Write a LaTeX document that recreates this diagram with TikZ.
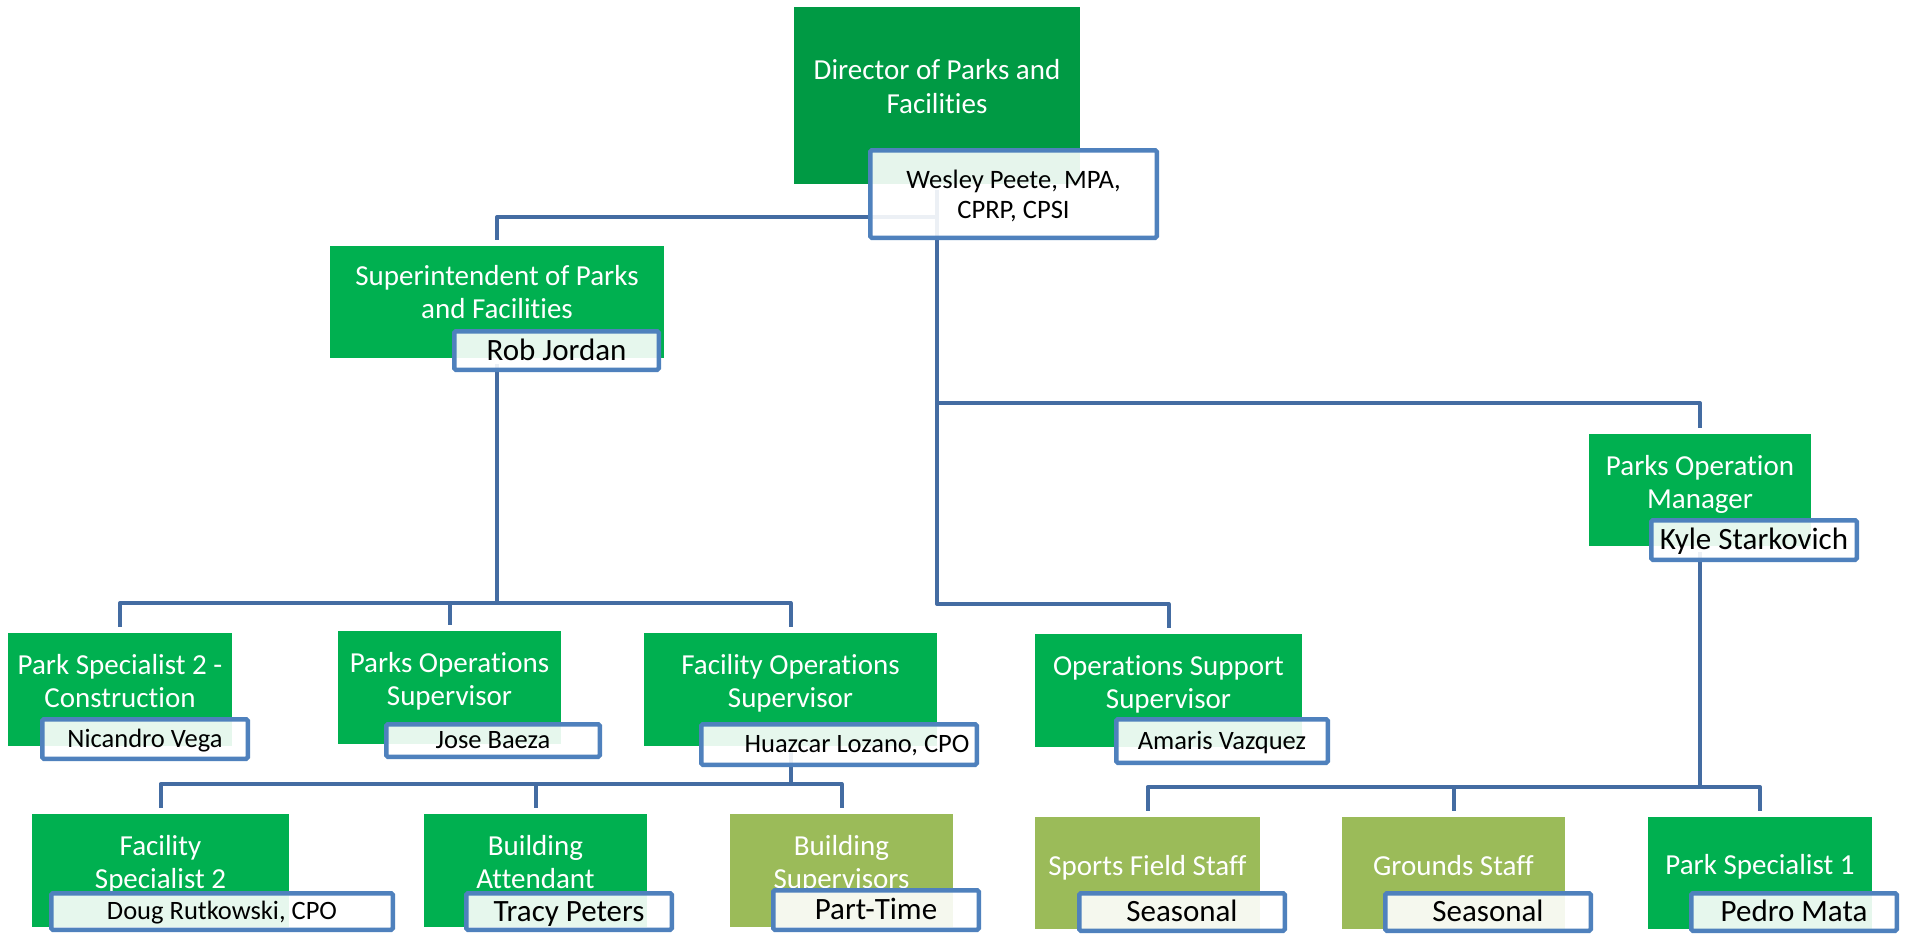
\documentclass[tikz,border=0pt]{standalone}
\usepackage{fontspec}
\setmainfont{Carlito}[Ligatures={NoCommon}]
\definecolor{dirgreen}{RGB}{0,154,68}
\definecolor{boxgreen}{RGB}{0,176,80}
\definecolor{olivebox}{RGB}{155,187,89}
\definecolor{namebd}{RGB}{79,129,189}
\definecolor{conncol}{RGB}{68,108,162}
\begin{document}
\begin{tikzpicture}[x=1pt,y=-1pt,
  tbox/.style={rectangle, inner sep=0pt, outer sep=0pt, draw=none},
  ttext/.style={text=white, font=\fontsize{29}{33}\selectfont, inner sep=0pt, anchor=base},
  nbox/.style={rectangle, draw=namebd, line width=4.5pt, fill=white, fill opacity=0.9, text opacity=1, rounded corners=1.5pt, inner sep=0pt, outer sep=0pt, text=black},
  nsmall/.style={nbox, font=\fontsize{26.5}{30}\selectfont, text height=16.7pt, text depth=0pt},
  nbig/.style={nbox, font=\fontsize{31}{35}\selectfont, text height=19.6pt, text depth=0pt},
  conn/.style={draw=conncol, line width=4pt, line join=round, shorten <=6pt, shorten >=6pt}
]
\useasboundingbox (0,0) rectangle (1906,934);
\fill[white] (0,0) rectangle (1906,934);

% title boxes
\node[tbox, fill=dirgreen, minimum width=286pt, minimum height=177pt] (dir) at (937,95.5) {};
\node[tbox, fill=boxgreen, minimum width=334pt, minimum height=112pt] (sup) at (497,302) {};
\node[tbox, fill=boxgreen, minimum width=224pt, minimum height=113pt] (ps2) at (120,689.5) {};
\node[tbox, fill=boxgreen, minimum width=223pt, minimum height=113pt] (pos) at (449.5,687.5) {};
\node[tbox, fill=boxgreen, minimum width=293pt, minimum height=113pt] (fos) at (790.5,689.5) {};
\node[tbox, fill=boxgreen, minimum width=267pt, minimum height=113pt] (oss) at (1168.5,690.5) {};
\node[tbox, fill=boxgreen, minimum width=222pt, minimum height=112pt] (pom) at (1700,490) {};
\node[tbox, fill=boxgreen, minimum width=257pt, minimum height=113pt] (fs2) at (160.5,870.5) {};
\node[tbox, fill=boxgreen, minimum width=223pt, minimum height=113pt] (ba) at (535.5,870.5) {};
\node[tbox, fill=olivebox, minimum width=223pt, minimum height=113pt] (bs) at (841.5,870.5) {};
\node[tbox, fill=olivebox, minimum width=225pt, minimum height=112pt] (sfs) at (1147.5,873) {};
\node[tbox, fill=olivebox, minimum width=223pt, minimum height=112pt] (gs) at (1453.5,873) {};
\node[tbox, fill=boxgreen, minimum width=224pt, minimum height=112pt] (psp) at (1760,873) {};

% title texts
\node[ttext] (dirT) at (937,80) {\begin{tabular}[t]{@{}c@{}}Director of Parks and\\Facilities\end{tabular}};
\node[ttext] (supT) at (497,285) {\begin{tabular}[t]{@{}c@{}}Superintendent of Parks\\and Facilities\end{tabular}};
\node[ttext] (ps2T) at (120,674) {\begin{tabular}[t]{@{}c@{}}Park Specialist 2 -\\Construction\end{tabular}};
\node[ttext] (posT) at (449.5,672) {\begin{tabular}[t]{@{}c@{}}Parks Operations\\Supervisor\end{tabular}};
\node[ttext] (fosT) at (790.5,674) {\begin{tabular}[t]{@{}c@{}}Facility Operations\\Supervisor\end{tabular}};
\node[ttext] (ossT) at (1168.5,675) {\begin{tabular}[t]{@{}c@{}}Operations Support\\Supervisor\end{tabular}};
\node[ttext] (pomT) at (1700,475) {\begin{tabular}[t]{@{}c@{}}Parks Operation\\Manager\end{tabular}};
\node[ttext] (fs2T) at (160.5,855) {\begin{tabular}[t]{@{}c@{}}Facility\\Specialist 2\end{tabular}};
\node[ttext] (baT) at (535.5,855) {\begin{tabular}[t]{@{}c@{}}Building\\Attendant\end{tabular}};
\node[ttext] (bsT) at (841.5,855) {\begin{tabular}[t]{@{}c@{}}Building\\Supervisors\end{tabular}};
\node[ttext] (sfsT) at (1147.5,875) {Sports Field Staff};
\node[ttext] (gsT) at (1453.5,875) {Grounds Staff};
\node[ttext] (pspT) at (1760,874) {Park Specialist 1};

% connectors
\draw[conn] (dir.south) -- ++(0,33) -| (sup.north);
\draw[conn] (dir.south) -- ++(0,219) -| (pom.north);
\draw[conn] (dir.south) -- ++(0,420) -| (oss.north);
\draw[conn] (sup.south) -- ++(0,245) -| (ps2.north);
\draw[conn] (sup.south) -- ++(0,245) -| (pos.north);
\draw[conn] (sup.south) -- ++(0,245) -| (fos.north);
\draw[conn] (fos.south) -- ++(0,38) -| (fs2.north);
\draw[conn] (fos.south) -- ++(0,38) -| (ba.north);
\draw[conn] (fos.south) -- ++(0,38) -| (bs.north);
\draw[conn] (pom.south) -- ++(0,241) -| (sfs.north);
\draw[conn] (pom.south) -- ++(0,241) -| (gs.north);
\draw[conn] (pom.south) -- ++(0,241) -| (psp.north);

% name boxes
\node[nbox, minimum width=286.5pt, minimum height=87.5pt] (wes) at (1013.5,194) {};
\node[text=black, font=\fontsize{26.6}{30}\selectfont, inner sep=0pt, anchor=base] (wesT) at (1013.5,188) {\begin{tabular}[t]{@{}c@{}}Wesley Peete, MPA,\\CPRP, CPSI\end{tabular}};
\node[nbig, minimum width=204.5pt, minimum height=38.5pt] (rob) at (556.5,350.5) {Rob Jordan};
\node[nsmall, minimum width=205.5pt, minimum height=39.5pt] (nic) at (145,739) {Nicandro Vega};
\node[nsmall, minimum width=213.5pt, minimum height=32.5pt] (jose) at (493,740.5) {Jose Baeza};
\node[nsmall, minimum width=275.5pt, minimum height=40.5pt] (hua) at (839,744.5) {\hspace*{36pt}Huazcar Lozano, CPO};
\node[nsmall, minimum width=211.5pt, minimum height=43.5pt] (ama) at (1222,741) {Amaris Vazquez};
\node[nbig, minimum width=205.5pt, minimum height=39.5pt] (kyle) at (1754,540) {Kyle Starkovich};
\node[nsmall, minimum width=341.5pt, minimum height=36.5pt] (doug) at (222,911.5) {Doug Rutkowski, CPO};
\node[nbig, minimum width=205.5pt, minimum height=36.5pt] (tracy) at (569,911.5) {Tracy Peters};
\node[nbig, minimum width=205.5pt, minimum height=39.5pt] (ptime) at (876,910) {Part-Time};
\node[nbig, minimum width=205.5pt, minimum height=37.5pt] (sea1) at (1182,912) {Seasonal};
\node[nbig, minimum width=205.5pt, minimum height=37.5pt] (sea2) at (1488,912) {Seasonal};
\node[nbig, minimum width=205.5pt, minimum height=37.5pt] (pedro) at (1794,912) {Pedro Mata};
\end{tikzpicture}
\end{document}
